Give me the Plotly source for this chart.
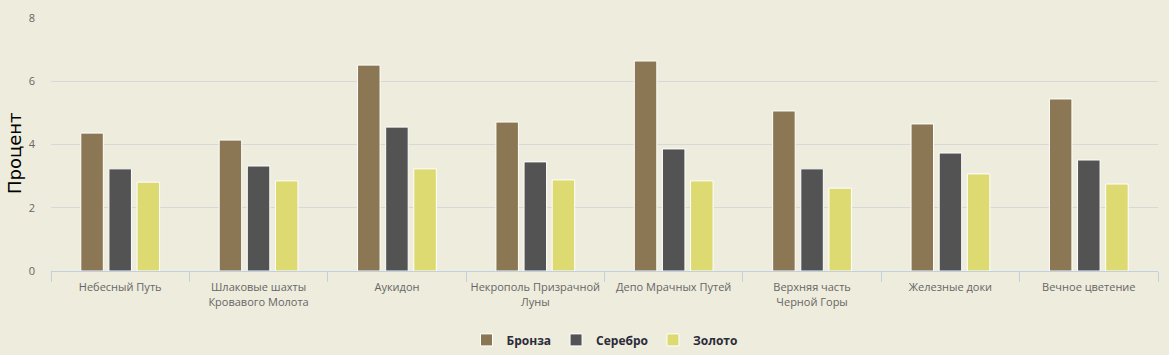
import plotly.graph_objects as go

categories = ["Небесный Путь", "Шлаковые шахты<br>Кровавого Молота", "Аукидон",
              "Некрополь Призрачной<br>Луны", "Депо Мрачных Путей",
              "Верхняя часть<br>Черной Горы", "Железные доки", "Вечное цветение"]
bronze = [4.36, 4.14, 6.51, 4.71, 6.64, 5.06, 4.65, 5.44]
silver = [3.23, 3.32, 4.55, 3.45, 3.86, 3.23, 3.73, 3.51]
gold = [2.81, 2.85, 3.23, 2.88, 2.85, 2.62, 3.07, 2.75]
y_title = "Процент"

series = [("Бронза", bronze, "#8B7753"), ("Серебро", silver, "#535353"), ("Золото", gold, "#DCDA70")]

fig = go.Figure()
for name, vals, col in series:
    fig.add_trace(go.Bar(x=categories, y=vals, name=name,
                         marker=dict(color=col, line=dict(color="#FFFFFF", width=1)),
                         hoverinfo="x+y"))

font = "Open Sans, DejaVu Sans, sans-serif"
W, H = 1169, 355
L, R, T, B = 51, 11, 18, 84
fig.update_layout(
    width=W, height=H,
    paper_bgcolor="#EEECDC", plot_bgcolor="#EEECDC",
    margin=dict(l=L, r=R, t=T, b=B, autoexpand=False),
    barmode="group", bargap=0.39, bargroupgap=0.2,
    font=dict(family=font, size=11, color="#666666"),
    showlegend=True,
    legend=dict(orientation="h", x=0.5, xanchor="center", y=-0.215, yanchor="top",
                yref="paper",
                font=dict(family=font, size=12, color="#2B2B3A", weight="bold"),
                itemwidth=30, traceorder="normal"),
    xaxis=dict(type="category", showgrid=False, showline=True, linecolor="#C0D0E0", linewidth=1,
               ticks="outside", tickson="boundaries", ticklen=10, tickcolor="#C0D0E0",
               tickangle=0, automargin=False, ticklabelstandoff=6,
               tickfont=dict(size=11, color="#666666"), fixedrange=True),
    yaxis=dict(range=[0, 8], dtick=2, showgrid=True, gridcolor="#D8D8D8", zeroline=False,
               showline=False, ticks="", ticklabelstandoff=15, automargin=False,
               tickfont=dict(size=11, color="#666666")),
    annotations=[dict(text=y_title, textangle=-90, showarrow=False,
                      xref="paper", yref="paper",
                      x=(14 - L) / (W - L - R), y=(H - B - 153) / (H - T - B),
                      xanchor="center", yanchor="middle",
                      font=dict(family="DejaVu Sans, sans-serif", size=18, color="#000000"))],
)

fig.write_html("out.html")
